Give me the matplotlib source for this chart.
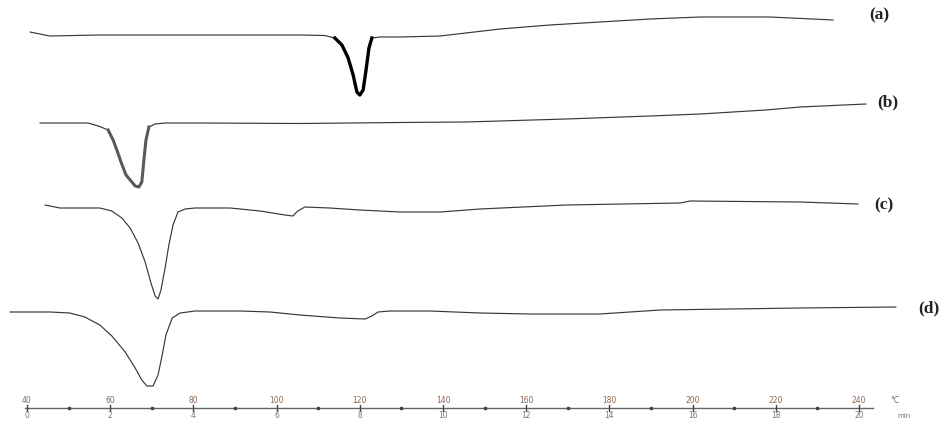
import matplotlib
matplotlib.use("Agg")
import matplotlib.pyplot as plt

# Temperature (°C) and signal (a.u., axis inverted: endotherm points down)
temp_a = [40.7, 45.5, 57.5, 81.6, 105.6, 111.6, 114.0, 115.7, 117.2, 118.4, 119.3, 120.0,
          120.8, 121.5, 122.2, 122.9, 124.9, 129.7, 139.3, 145.5, 153.7, 165.7, 177.7,
          189.8, 201.8, 218.6, 233.8]
sig_a = [32, 36, 35, 35, 35, 35.5, 38, 45, 58, 75, 92, 95,
         90, 70, 48, 38, 37, 37, 36, 33, 29, 25, 22,
         19, 17, 17, 20]

temp_b = [43.1, 48.7, 54.7, 57.5, 59.5, 60.7, 61.6, 62.6, 63.8, 64.8, 66.0, 66.9, 67.6,
          68.1, 68.6, 69.3, 70.8, 73.2, 81.6, 105.6, 129.7, 145.5, 169.6, 189.8, 201.8,
          217.6, 225.8, 241.7]
sig_b = [123, 123, 123, 126.5, 130, 140, 150, 162, 175, 180, 186, 187, 182,
         160, 140, 127, 124, 123, 123, 123.5, 122.5, 122, 119, 116, 114,
         110, 107, 104]

temp_c = [44.3, 47.9, 57.5, 60.4, 62.8, 64.8, 66.7, 68.4, 69.8, 70.8, 71.5, 72.2, 73.2,
          74.1, 75.1, 76.3, 78.0, 80.4, 88.8, 96.0, 102.0, 103.9, 105.1, 106.8, 112.8,
          120.0, 129.7, 139.3, 148.9, 169.6, 197.0, 199.4, 225.8, 239.8]
sig_c = [205, 208, 208, 211, 218, 228, 243, 262, 283, 296, 299, 290, 268,
         245, 225, 212, 209, 208, 208, 211, 215, 216, 211, 207, 208,
         210, 212, 212, 209, 205, 203, 201, 202, 204]

temp_d = [35.9, 45.5, 50.3, 53.9, 57.5, 60.4, 63.6, 66.0, 67.6, 68.8, 70.3, 71.5, 72.5,
          73.4, 74.9, 76.8, 80.4, 91.2, 98.4, 105.6, 115.2, 121.3, 122.9, 124.4, 127.3,
          136.9, 148.9, 160.9, 177.7, 192.2, 225.8, 248.9]
sig_d = [312, 312, 313, 317, 325, 336, 352, 368, 380, 386, 386, 375, 355,
         335, 318, 313, 311, 311, 312, 315, 318, 319, 316, 312, 311,
         311, 313, 314, 314, 310, 308, 307]

curve_labels = ["(a)", "(b)", "(c)", "(d)"]
label_temps = [245.0, 247.0, 246.0, 256.8]
label_sigs = [15, 102, 205, 308]

temp_ticks = [40, 60, 80, 100, 120, 140, 160, 180, 200, 220, 240]
time_ticks = [0, 2, 4, 6, 8, 10, 12, 14, 16, 18, 20]

PX = 4.16  # px per °C
fig = plt.figure(figsize=(9.46, 4.21), dpi=100)
ax = fig.add_axes([0, 0, 1, 1])
ax.set_xlim(40 - 27 / PX, 40 + 919 / PX)
ax.set_ylim(421, 0)
ax.axis("off")

col = "#383838"
for t, s in [(temp_a, sig_a), (temp_b, sig_b), (temp_c, sig_c), (temp_d, sig_d)]:
    ax.plot(t, s, color=col, lw=0.85, solid_capstyle="round")

# thicker peak segments as in the original recording
ax.plot(temp_a[6:16], sig_a[6:16], color="black", lw=2.4)
ax.plot(temp_b[4:16], sig_b[4:16], color="#5a5a5a", lw=2.2)

for lab, tx, sy in zip(curve_labels, label_temps, label_sigs):
    ax.text(tx, sy, lab, fontsize=12.5, fontweight="bold", family="Liberation Serif",
            ha="center", va="center", color="#222222")

# bottom temperature / time scale
axis_y = 408
ax.plot([40 - 2 / PX, 240 + 14 / PX], [axis_y, axis_y], color="#666666", lw=1.0)
for T, m in zip(temp_ticks, time_ticks):
    ax.plot([T, T], [axis_y - 3, axis_y + 3], color="#444444", lw=1.0)
    ax.text(T, axis_y - 7.5, str(T), fontsize=5.5, ha="center", va="center", color="#8a6a55")
    ax.text(T, axis_y + 7.5, str(m), fontsize=5.5, ha="center", va="center", color="#6a7a8a")
for T in temp_ticks[:-1]:
    ax.plot([T + 10], [axis_y], marker="s", ms=1.6, color="#444444")
ax.text(240 + 36 / PX, axis_y - 7.5, "°C", fontsize=5.5, ha="center", va="center", color="#666666")
ax.text(240 + 45 / PX, axis_y + 7.5, "min", fontsize=5, ha="center", va="center", color="#6a7a8a")

fig.savefig("out.png", dpi=100)
